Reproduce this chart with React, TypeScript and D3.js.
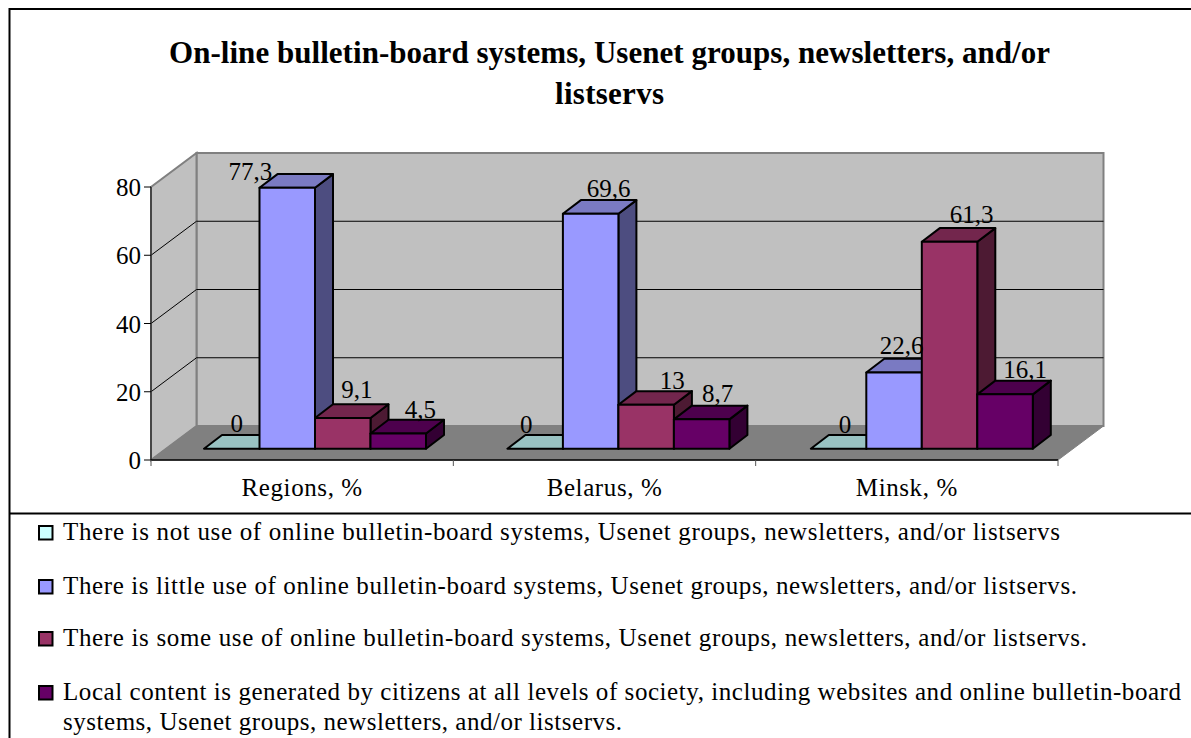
import React from "react";
import * as d3 from "d3";

const categories = ["Regions, %", "Belarus, %", "Minsk, %"];
const seriesNames = ["none", "little", "some", "local"];
const noneValues = [0, 0, 0];
const littleValues = [77.3, 69.6, 22.6];
const someValues = [9.1, 13, 61.3];
const localValues = [4.5, 8.7, 16.1];
const seriesValues = [noneValues, littleValues, someValues, localValues];
const axisTicks = [0, 20, 40, 60, 80];
const faceColors = ["#ccffff", "#9999ff", "#993366", "#660066"];
const topColors = ["#99c2c2", "#7a7ac2", "#73264d", "#4d004d"];
const sideColors = ["#7fa0a0", "#4d4d80", "#4d1a33", "#330033"];
const titleLines = [
  "On-line bulletin-board systems, Usenet groups, newsletters, and/or",
  "listservs",
];
const legendTexts = [
  ["There is not use of online bulletin-board systems, Usenet groups, newsletters, and/or listservs"],
  ["There is little use of online bulletin-board systems, Usenet groups, newsletters, and/or listservs."],
  ["There is some use of online bulletin-board systems, Usenet groups, newsletters, and/or listservs."],
  [
    "Local content is generated by citizens at all levels of society, including websites and online bulletin-board",
    "systems, Usenet groups, newsletters, and/or listservs.",
  ],
];

const W = 1191;
const H = 738;
const FONT = "'Liberation Serif', 'Times New Roman', serif";

// Projection of the 3D box: the floor recedes up and to the right.
const depthX = 45.5;
const depthY = 34;
const frontLeft = 151;
const frontRight = 1058;
const frontBase = 460;
const frontTop = 187;

const axisY = d3.scaleLinear().domain([0, 80]).range([frontBase, frontTop]);
const categoryX = d3.scaleBand().domain(categories).range([frontLeft, frontRight]);

// Bars stand on a line part-way into the floor.
const barBase = 448.7;
const barY = d3.scaleLinear().domain([0, 80]).range([barBase, 178.7]);
const groupX = d3.scaleBand().domain(categories).range([204, 204 + 3 * 303.4]);
const barX = d3.scaleBand().domain(seriesNames).range([0, 222]);
const barDx = 18;
const barDy = 13.7;

// Hand placement of value labels relative to each bar, by category then series.
const labelShiftX = [
  [5, -37, 14, 22],
  [-9, 18, 26, 16],
  [6.5, 7.5, 22, 20],
];
const labelShiftY = [
  [-3, 6, -6, -2],
  [-2, -3, -2, -4],
  [-2, -5, -5, -3],
];

const titleWidths = [881, 109];
const legendBaselines = [540, 594, 646, 700];
const legendWidths = [[997], [1014], [1024], [1118, 559]];
const pts = (p: number[][]) => p.map((q) => q.join(",")).join(" ");

export default function App() {
  const bars = categories.flatMap((c, ci) =>
    seriesNames.map((s, si) => ({
      key: `${c}-${s}`,
      ci,
      si,
      value: seriesValues[si][ci],
      x0: groupX(c)! + barX(s)!,
    }))
  );
  // Painted left to right so neighbours overlap the way solid boxes would.
  const order = [...bars].sort((a, b) => a.x0 - b.x0);

  return (
    <svg
      width={W}
      height={H}
      viewBox={`0 0 ${W} ${H}`}
      style={{ position: "absolute", left: 0, top: 0, background: "#fff" }}
      fontFamily={FONT}
    >
      {/* outer frame and chart/legend divider */}
      <path d={`M9.5 ${H}V9H${W}M9.5 513.5H${W}`} fill="none" stroke="#000" strokeWidth={2} />

      {titleLines.map((t, i) => (
        <text
          key={t}
          x={609.5}
          y={63 + i * 40.5}
          textAnchor="middle"
          fontSize={31}
          fontWeight="bold"
          fill="#000"
          textLength={titleWidths[i]}
          lengthAdjust="spacing"
        >
          {t}
        </text>
      ))}

      {/* walls and floor */}
      <polygon
        points={pts([
          [frontLeft + depthX, axisY(80) - depthY],
          [frontRight + depthX, axisY(80) - depthY],
          [frontRight + depthX, axisY(0) - depthY],
          [frontLeft + depthX, axisY(0) - depthY],
        ])}
        fill="#c0c0c0"
        stroke="#808080"
        strokeWidth={2}
      />
      <polygon
        points={pts([
          [frontLeft, axisY(0)],
          [frontLeft, axisY(80)],
          [frontLeft + depthX, axisY(80) - depthY],
          [frontLeft + depthX, axisY(0) - depthY],
        ])}
        fill="#c0c0c0"
        stroke="#808080"
        strokeWidth={2}
      />
      <polygon
        points={pts([
          [frontLeft, axisY(0)],
          [frontRight, axisY(0)],
          [frontRight + depthX, axisY(0) - depthY],
          [frontLeft + depthX, axisY(0) - depthY],
        ])}
        fill="#808080"
        stroke="#808080"
      />

      {/* gridlines wrap from the side wall on to the back wall */}
      {axisTicks
        .filter((t) => t > 0 && t < 80)
        .map((t) => (
          <polyline
            key={t}
            points={pts([
              [frontLeft, axisY(t)],
              [frontLeft + depthX, axisY(t) - depthY],
              [frontRight + depthX, axisY(t) - depthY],
            ])}
            fill="none"
            stroke="#000"
            strokeWidth={1}
          />
        ))}

      {/* bars */}
      {order.map((b) => {
        const x0 = b.x0;
        const x1 = x0 + barX.bandwidth();
        const yTop = barY(b.value);
        return (
          <g key={b.key} stroke="#000" strokeWidth={2} strokeLinejoin="round">
            <polygon
              points={pts([
                [x1, barBase],
                [x1, yTop],
                [x1 + barDx, yTop - barDy],
                [x1 + barDx, barBase - barDy],
              ])}
              fill={sideColors[b.si]}
            />
            <polygon
              points={pts([
                [x0, yTop],
                [x1, yTop],
                [x1 + barDx, yTop - barDy],
                [x0 + barDx, yTop - barDy],
              ])}
              fill={topColors[b.si]}
            />
            {b.value > 0 && <rect x={x0} y={yTop} width={x1 - x0} height={barBase - yTop} fill={faceColors[b.si]} />}
          </g>
        );
      })}

      {/* value labels */}
      {order.map((b) => (
        <text
          key={b.key}
          x={b.x0 + barX.bandwidth() / 2 + labelShiftX[b.ci][b.si]}
          y={barY(b.value) - barDy + labelShiftY[b.ci][b.si]}
          textAnchor="middle"
          fontSize={25}
          fill="#000"
        >
          {String(b.value).replace(".", ",")}
        </text>
      ))}

      {/* axes */}
      <path d={`M${frontLeft} ${axisY(80)}V${axisY(0)}`} fill="none" stroke="#333" strokeWidth={1.5} />
      <path d={`M${frontLeft} ${axisY(0)}H${frontRight}`} fill="none" stroke="#000" strokeWidth={1.5} />
      {axisTicks.map((t) => (
        <g key={t}>
          <line x1={frontLeft - 7} x2={frontLeft} y1={axisY(t)} y2={axisY(t)} stroke="#000" />
          <text x={frontLeft - 10} y={axisY(t) + 9} textAnchor="end" fontSize={25} fill="#000">
            {t}
          </text>
        </g>
      ))}
      {[...categories.map((c) => categoryX(c)!), frontRight].map((x) => (
        <line key={x} x1={x} x2={x} y1={frontBase} y2={frontBase + 6} stroke="#555" />
      ))}
      {categories.map((c) => (
        <text
          key={c}
          x={categoryX(c)! + categoryX.bandwidth() / 2}
          y={496}
          textAnchor="middle"
          fontSize={25}
          letterSpacing={0.6}
          fill="#000"
        >
          {c}
        </text>
      ))}

      {/* legend */}
      {legendTexts.map((lines, i) => (
        <g key={i}>
          <rect
            x={39}
            y={legendBaselines[i] - 14}
            width={13.5}
            height={13.5}
            fill={faceColors[i]}
            stroke="#000"
            strokeWidth={2}
          />
          {lines.map((line, li) => (
            <text
              key={line}
              x={63}
              y={legendBaselines[i] + li * 30}
              fontSize={25}
              fill="#000"
              textLength={legendWidths[i][li]}
              lengthAdjust="spacing"
            >
              {line}
            </text>
          ))}
        </g>
      ))}
    </svg>
  );
}
